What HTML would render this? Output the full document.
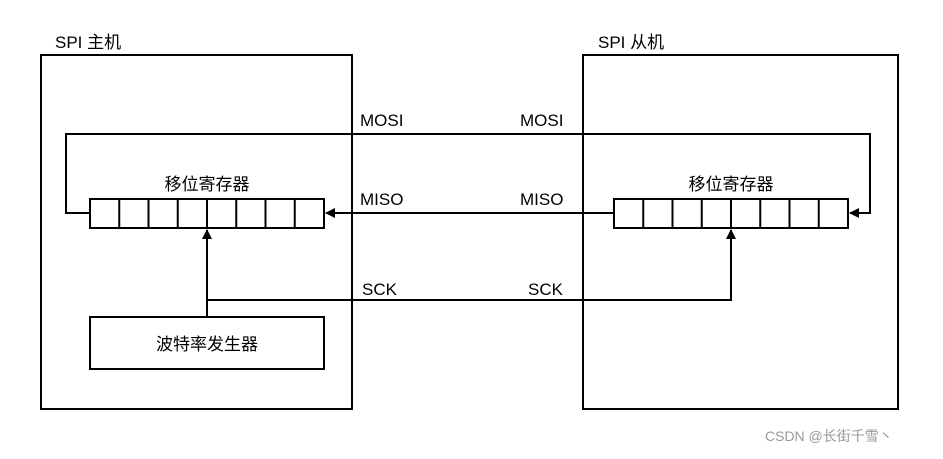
<!DOCTYPE html>
<html><head><meta charset="utf-8"><style>
body{margin:0;background:#fff;width:943px;height:454px;overflow:hidden}
svg text{font-family:"Liberation Sans","Noto Sans CJK SC",sans-serif;fill:#000}
</style></head><body>
<svg width="943" height="454" viewBox="0 0 943 454" xmlns="http://www.w3.org/2000/svg">
<defs><marker id="a" markerWidth="10" markerHeight="10" refX="9" refY="5" orient="auto" markerUnits="userSpaceOnUse"><path d="M0,0 L10,5 L0,10 Z" fill="#000"/></marker></defs>
<g fill="none" stroke="#000" stroke-width="2">
<rect x="41" y="55" width="311" height="354"/>
<rect x="583" y="55" width="315" height="354"/>
<rect x="90" y="199" width="234" height="29"/>
<rect x="614" y="199" width="234" height="29"/>
<path d="M119.25 199v29M148.5 199v29M177.75 199v29M207 199v29M236.25 199v29M265.5 199v29M294.75 199v29"/>
<path d="M643.25 199v29M672.5 199v29M701.75 199v29M731 199v29M760.25 199v29M789.5 199v29M818.75 199v29"/>
<rect x="90" y="317" width="234" height="52"/>
<path d="M90 213H66V134H870V213H850" marker-end="url(#a)"/>
<path d="M614 213H326" marker-end="url(#a)"/>
<path d="M207 317V230" marker-end="url(#a)"/>
<path d="M207 300H731V230" marker-end="url(#a)"/>
</g>
<g font-size="17">
<text x="55" y="48">SPI 主机</text>
<text x="598" y="48">SPI 从机</text>
<text x="360" y="126">MOSI</text>
<text x="520" y="126">MOSI</text>
<text x="360" y="205">MISO</text>
<text x="520" y="205">MISO</text>
<text x="362" y="295">SCK</text>
<text x="528" y="295">SCK</text>
<text x="207" y="190" text-anchor="middle">移位寄存器</text>
<text x="731" y="190" text-anchor="middle">移位寄存器</text>
<text x="207" y="350" text-anchor="middle">波特率发生器</text>
</g>
<text x="765" y="441" font-size="14" style="fill:#999">CSDN @长街千雪丶</text>
</svg>
</body></html>
